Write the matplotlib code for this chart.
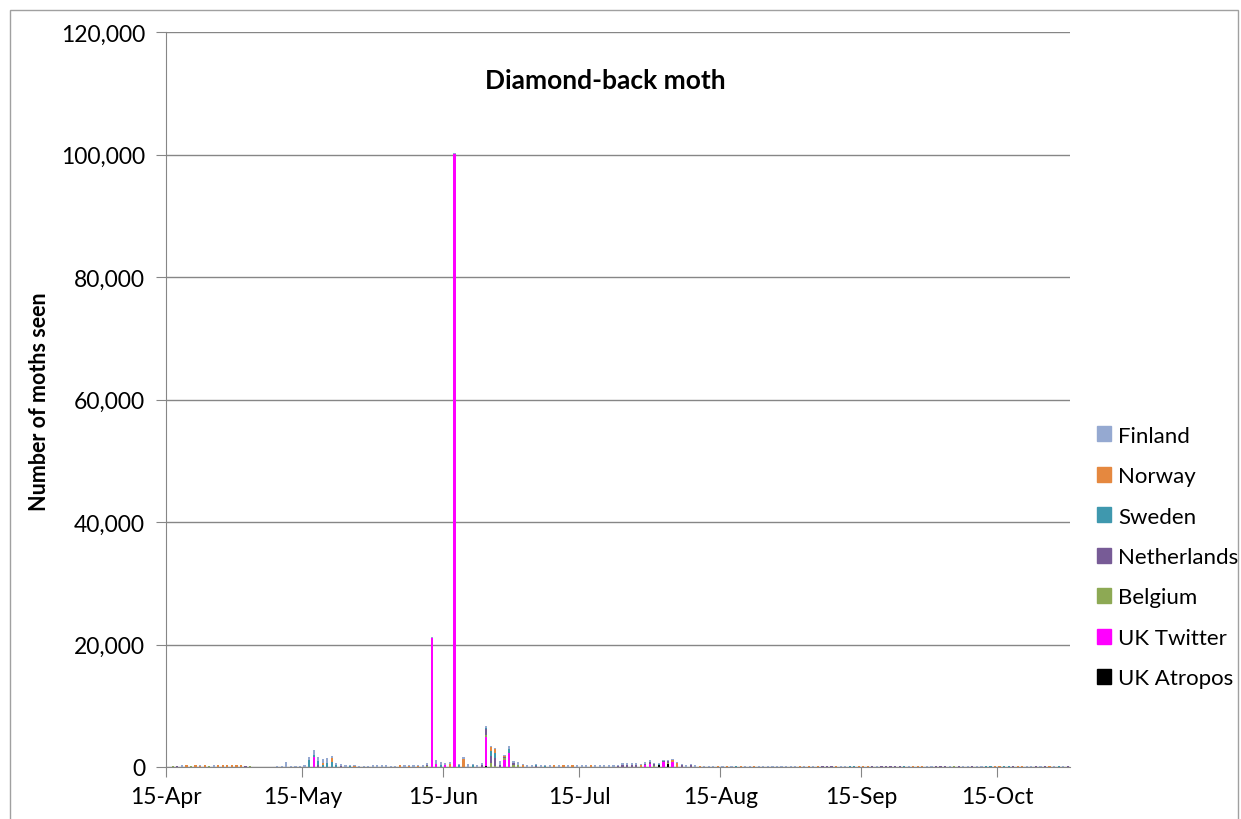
import datetime as dt
import numpy as np
import matplotlib
matplotlib.use("Agg")
import matplotlib.pyplot as plt
import matplotlib.dates as mdates
from matplotlib.patches import Rectangle, Patch
from matplotlib.ticker import FuncFormatter, MultipleLocator

plt.rcParams['font.family'] = ['Lato', 'DejaVu Sans']

# one value per day, starting 15 April
start = dt.date(2016, 4, 15)
n_days = 199

finland = [
    0, 0, 0, 250, 0, 0, 0, 150, 0, 0,
    250, 0, 0, 0, 0, 0, 0, 0, 0, 0,
    0, 0, 0, 0, 150, 150, 800, 150, 200, 200,
    250, 500, 900, 700, 600, 800, 400, 400, 300, 250,
    200, 180, 150, 200, 200, 250, 250, 250, 300, 200,
    200, 150, 250, 200, 350, 200, 400, 250, 200, 600,
    500, 300, 300, 150, 250, 300, 500, 200, 330, 300,
    350, 250, 150, 500, 200, 550, 300, 450, 100, 330,
    330, 190, 300, 200, 300, 0, 300, 0, 250, 0,
    300, 300, 250, 0, 300, 300, 250, 300, 300, 250,
    300, 300, 350, 350, 100, 250, 350, 150, 150, 150,
    200, 150, 200, 200, 330, 100, 380, 0, 200, 180,
    220, 0, 200, 0, 180, 0, 0, 200, 220, 0,
    200, 180, 200, 220, 200, 180, 200, 200, 220, 0,
    200, 0, 180, 0, 0, 0, 0, 0, 200, 200,
    0, 0, 0, 0, 0, 0, 200, 0, 0, 0,
    0, 0, 0, 200, 0, 0, 0, 180, 200, 0,
    0, 0, 200, 0, 0, 200, 180, 0, 200, 200,
    0, 0, 0, 0, 0, 0, 0, 0, 0, 200,
    200, 0, 180, 0, 0, 200, 0, 200, 0,
]

norway = [
    0, 0, 0, 0, 250, 0, 250, 150, 250, 0,
    0, 250, 250, 300, 250, 300, 250, 0, 0, 0,
    0, 0, 0, 0, 0, 0, 0, 0, 0, 0,
    0, 0, 0, 0, 400, 0, 600, 0, 0, 0,
    0, 150, 0, 0, 0, 0, 0, 0, 0, 0,
    0, 250, 0, 200, 0, 200, 0, 0, 0, 0,
    0, 0, 500, 0, 0, 1300, 0, 0, 0, 0,
    0, 700, 600, 0, 100, 0, 0, 0, 400, 0,
    0, 0, 0, 0, 0, 300, 0, 250, 0, 300,
    0, 0, 0, 300, 0, 0, 0, 0, 0, 0,
    0, 0, 0, 0, 400, 0, 0, 0, 0, 0,
    0, 300, 600, 0, 0, 0, 0, 200, 0, 0,
    0, 200, 0, 200, 0, 0, 200, 0, 0, 200,
    0, 0, 0, 0, 0, 0, 0, 0, 0, 200,
    0, 200, 0, 200, 0, 0, 0, 200, 0, 0,
    0, 0, 200, 200, 200, 0, 0, 0, 0, 0,
    0, 0, 0, 0, 200, 200, 200, 0, 0, 0,
    0, 0, 0, 0, 0, 0, 0, 0, 0, 0,
    0, 0, 200, 200, 0, 0, 0, 200, 200, 0,
    0, 0, 0, 0, 200, 0, 0, 0, 0,
]

sweden = [
    0, 0, 0, 0, 0, 0, 0, 0, 0, 0,
    0, 0, 0, 0, 0, 0, 0, 0, 0, 0,
    0, 0, 0, 0, 0, 0, 0, 0, 0, 0,
    0, 1100, 200, 700, 300, 700, 800, 300, 0, 0,
    100, 0, 0, 0, 0, 0, 0, 0, 0, 0,
    0, 0, 0, 0, 0, 0, 0, 0, 0, 0,
    300, 0, 0, 0, 250, 0, 0, 300, 0, 0,
    100, 700, 800, 0, 0, 650, 0, 0, 0, 0,
    0, 150, 0, 100, 0, 0, 0, 0, 0, 0,
    0, 0, 0, 0, 0, 0, 0, 0, 0, 0,
    0, 0, 0, 0, 0, 0, 0, 0, 150, 0,
    0, 0, 0, 0, 0, 0, 0, 0, 0, 0,
    0, 0, 0, 0, 0, 200, 0, 0, 0, 0,
    0, 0, 0, 0, 0, 0, 0, 0, 0, 0,
    0, 0, 0, 0, 0, 0, 0, 0, 0, 0,
    200, 200, 0, 0, 0, 0, 0, 0, 0, 0,
    0, 0, 200, 0, 0, 0, 0, 0, 0, 0,
    0, 0, 0, 0, 0, 0, 0, 0, 0, 0,
    200, 200, 0, 0, 200, 200, 0, 0, 0, 0,
    0, 0, 0, 0, 0, 0, 200, 0, 0,
]

netherlands = [
    0, 0, 200, 0, 0, 0, 0, 0, 0, 0,
    0, 0, 0, 0, 0, 0, 0, 200, 0, 0,
    0, 0, 0, 0, 0, 0, 0, 0, 0, 0,
    0, 0, 100, 300, 0, 0, 0, 0, 150, 0,
    0, 0, 0, 0, 0, 0, 0, 0, 0, 0,
    0, 0, 0, 0, 0, 0, 0, 200, 0, 0,
    0, 0, 0, 0, 0, 0, 0, 0, 0, 300,
    900, 1200, 1450, 400, 250, 0, 300, 0, 0, 0,
    0, 150, 0, 0, 0, 0, 0, 0, 0, 0,
    0, 0, 0, 0, 0, 0, 0, 0, 0, 150,
    300, 300, 350, 350, 0, 200, 300, 250, 0, 150,
    300, 0, 0, 300, 0, 400, 0, 0, 0, 0,
    0, 0, 0, 0, 0, 0, 0, 0, 0, 0,
    0, 0, 0, 0, 0, 0, 0, 0, 0, 0,
    0, 0, 0, 0, 200, 200, 200, 0, 0, 0,
    0, 0, 0, 0, 0, 200, 0, 200, 200, 200,
    200, 200, 0, 0, 0, 0, 0, 0, 0, 200,
    200, 200, 0, 0, 200, 0, 0, 200, 0, 0,
    0, 0, 0, 0, 0, 0, 200, 0, 0, 0,
    0, 200, 0, 200, 0, 0, 0, 0, 200,
]

# sparse series: day offset from 15 April and count
belgium_days = [1, 5, 9, 18, 57, 58, 70, 71, 72, 74, 76, 77, 107, 110, 173]
belgium_vals = [200, 200, 200, 200, 200, 100, 450, 650, 100, 200, 300, 400, 200, 200, 200]
twitter_days = [32, 58, 59, 61, 63, 70, 74, 75, 105, 106, 109, 111]
twitter_vals = [1600, 21000, 500, 350, 100100, 4700, 1200, 2300, 300, 500, 850, 850]
atropos_days = [70, 108, 110]
atropos_vals = [150, 400, 450]

tick_months = [4, 5, 6, 7, 8, 9, 10]


def spread(days, vals):
    out = np.zeros(n_days)
    out[days] = vals
    return out


# bottom of the stack first
series = [
    ('UK Atropos', spread(atropos_days, atropos_vals), '#000000'),
    ('UK Twitter', spread(twitter_days, twitter_vals), '#FF00FF'),
    ('Belgium', spread(belgium_days, belgium_vals), '#8DA954'),
    ('Netherlands', np.array(netherlands, float), '#775B96'),
    ('Sweden', np.array(sweden, float), '#3F98AE'),
    ('Norway', np.array(norway, float), '#E5883F'),
    ('Finland', np.array(finland, float), '#95A9D1'),
]

x0 = mdates.date2num(start)
x = x0 + np.arange(n_days) + 0.5

fig = plt.figure(figsize=(12.41, 8.2), dpi=100)
ax = fig.add_axes([166 / 1241, 1 - 768 / 820, (1070 - 166) / 1241, (768 - 33) / 820])

bottom = np.zeros(n_days)
for name, vals, col in series:
    ax.bar(x, vals, width=0.48, bottom=bottom, color=col, linewidth=0, label=name)
    bottom += vals

ax.set_xlim(x0, x0 + n_days)
ax.set_ylim(0, 120000)
ax.yaxis.set_major_locator(MultipleLocator(20000))
ax.yaxis.set_major_formatter(FuncFormatter(lambda v, p: f'{int(v):,}'))
ax.set_xticks([mdates.date2num(dt.date(2016, m, 15)) for m in tick_months])
ax.xaxis.set_major_formatter(mdates.DateFormatter('%d-%b'))

ax.grid(axis='y', color='#868686', linewidth=1)
ax.set_axisbelow(True)
for s in ['top', 'right']:
    ax.spines[s].set_visible(False)
for s in ['left', 'bottom']:
    ax.spines[s].set_color('#868686')
ax.tick_params(direction='out', length=7, color='#868686', labelsize=16.5)
ax.tick_params(axis='y', pad=8)
ax.tick_params(axis='x', pad=7)

fig.text(605 / 1241, 1 - 81 / 820, 'Diamond-back moth', ha='center', va='center',
         fontsize=19, fontweight='bold')
fig.text(40 / 1241, 1 - 402 / 820, 'Number of moths seen', ha='center', va='center',
         rotation=90, fontsize=15.5, fontweight='bold')

handles = [Patch(color=col) for _, _, col in series[::-1]]
labels = [name for name, _, _ in series[::-1]]
fig.legend(handles, labels, loc='center left', bbox_to_anchor=(1097 / 1241, 1 - 558 / 820),
           frameon=False, fontsize=16, handlelength=0.65, handleheight=0.65,
           handletextpad=0.3, labelspacing=0.92, borderpad=0, borderaxespad=0)

# outer chart border
fig.patches.append(Rectangle((10 / 1241, -0.05), (1238 - 10) / 1241, 1.05 - 11 / 820,
                             transform=fig.transFigure, fill=False,
                             edgecolor='#A0A0A0', linewidth=1))

fig.savefig('out.png', dpi=100)
